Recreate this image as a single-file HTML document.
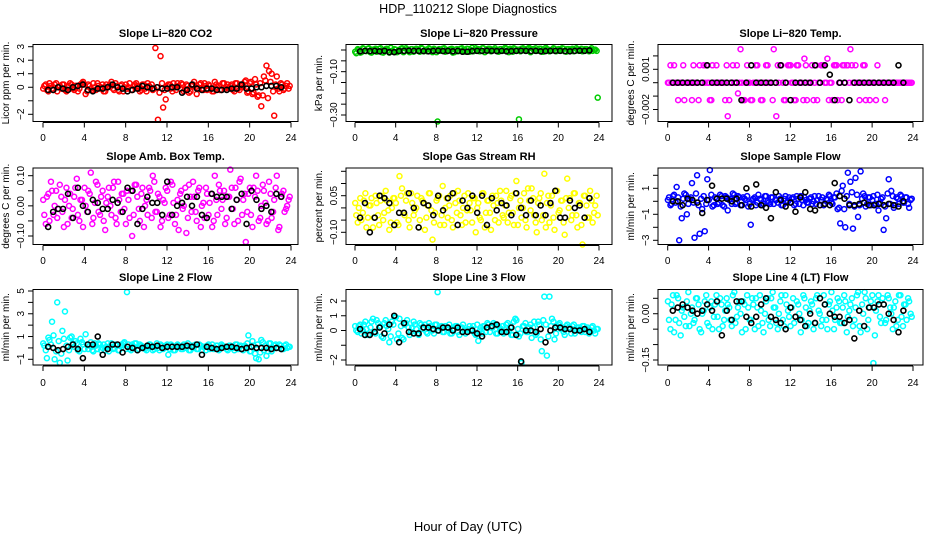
<!DOCTYPE html>
<html><head><meta charset="utf-8"><style>
html,body{margin:0;padding:0;background:#fff;}
svg{display:block;font-family:"Liberation Sans",sans-serif;}
</style></head><body>
<svg id="c" width="936" height="540" viewBox="0 0 936 540">
<text x="468" y="13" text-anchor="middle" font-size="12.5">HDP_110212  Slope Diagnostics</text>
<text x="468" y="531" text-anchor="middle" font-size="13">Hour of Day (UTC)</text>
</svg>
<script>
const xTicks=[0,4,8,12,16,20,24];
const co2=[0.1,-0.2,0.3,-0.1,0.2,-0.3,0.1,0.2,-0.2,0.0,0.3,-0.1,0.1,-0.3,0.2,0.4,-0.5,0.2,-0.1,0.3,-0.2,0.1,0.0,-0.3,0.2,0.1,0.4,-0.2,0.1,-0.3,0.2,0.0,-0.1,0.3,-0.2,0.2,0.1,-0.3,0.2,-0.1,0.3,0.0,-0.2,2.9,-2.4,2.3,-1.5,-0.9,0.2,-0.1,0.3,-0.2,0.1,0.3,-0.3,0.2,-0.4,0.1,0.4,-0.5,0.2,-0.1,0.3,-0.2,0.1,-0.3,0.4,0.0,-0.2,0.3,-0.1,0.2,0.1,-0.2,0.3,-0.1,0.2,0.0,0.5,-0.3,0.4,-0.4,0.2,-0.6,-1.4,0.8,1.6,1.2,1.0,-2.1,0.8,-0.3,0.2,-0.1,0.3,0.1];
const co2B=[-0.1,0.2,-0.3,0.1,-0.2,0.3,0.0,-0.1,0.2,-0.3,0.1,0.2,-0.2,0.1,-0.1,0.3,0.2,-0.3,0.1,-0.2,0.0,0.3,-0.1,0.2,-0.3,0.0,0.2,-0.1,0.3,-0.2,0.1,-0.3,0.2,0.0,-0.2,0.1,0.3,-0.1,-0.2,0.2,-0.3,0.1,0.2,-0.1,0.0,-0.4,0.3,-0.2,0.1,0.2,-0.3,0.0,0.3,-0.1,0.2,-0.2,0.1,-0.3,0.2,0.0,-0.1,0.3,-0.2,0.1,0.2,-0.1,-0.3,0.2,0.1,-0.2,0.3,0.0,-0.1,0.2,-0.3,0.3,-0.2,0.1,0.4,-0.4,0.3,-0.5,0.6,-0.7,0.3,-0.6,0.5,-0.8,0.4,-0.3,0.2,-0.1,0.3,-0.2,0.1,-0.1];
const co2Mean=[-0.2,-0.2,0.0,-0.1,-0.2,0.0,0.1,0.2,-0.2,-0.3,-0.1,-0.1,0.0,0.2,0.0,-0.1,-0.3,-0.2,-0.1,0.1,0.0,-0.1,0.0,-0.1,-0.1,0.0,0.0,-0.4,-0.2,0.2,-0.1,-0.2,-0.1,-0.1,-0.2,-0.2,-0.2,-0.1,-0.1,0.2,-0.1,-0.1,0.0,0.0,0.1,0.1,0.1,0.0];
const pres=[-0.015,0.0,-0.01,0.005,-0.005,0.008,-0.012,0.002,-0.008,0.005,-0.01,0.0,0.006,-0.012,-0.004,0.004,-0.01,0.0,0.008,-0.006,0.002,-0.01,0.004,-0.004,0.002,-0.008,0.006,0.0,-0.006,0.004,-0.01,0.002,-0.33,-0.004,0.006,-0.008,0.0,0.004,-0.012,0.002,-0.006,0.006,-0.002,-0.008,0.004,0.0,-0.006,0.008,0.004,-0.004,0.008,-0.002,0.006,-0.006,0.002,0.0,-0.008,0.004,-0.002,0.006,-0.01,0.002,0.008,-0.004,-0.32,0.006,-0.002,0.004,0.01,-0.006,0.002,-0.004,0.006,-0.008,0.0,0.004,-0.006,0.002,0.006,-0.004,0.0,0.008,-0.006,0.004,-0.002,0.006,-0.004,0.002,0.0,-0.006,0.004,-0.002,0.002,-0.004,0.002,-0.22];
const presB=[-0.008,0.004,-0.012,0.008,-0.004,0.006,-0.01,0.002,0.006,-0.006,0.008,-0.012,0.004,-0.002,0.01,-0.008,0.002,-0.004,0.006,-0.01,0.008,-0.002,0.004,-0.008,0.006,-0.004,0.01,-0.006,0.002,0.008,-0.004,0.006,-0.01,0.004,-0.002,0.008,-0.006,0.002,0.006,-0.01,0.004,-0.004,0.008,-0.002,0.006,-0.008,0.01,-0.004,0.002,-0.006,0.008,-0.01,0.004,0.006,-0.002,0.008,-0.006,0.004,-0.004,0.01,-0.002,0.006,-0.008,0.004,0.002,-0.006,0.008,-0.004,0.006,-0.01,0.004,0.008,-0.002,0.006,-0.008,0.01,0.002,-0.004,0.008,-0.006,0.004,-0.002,0.006,-0.008,0.004,0.002,-0.006,0.008,-0.004,0.006,-0.002,0.004,-0.006,0.008,0.002,-0.004];
const presMean=[-0.006,-0.004,-0.005,-0.004,-0.006,-0.004,-0.01,-0.01,-0.005,-0.004,-0.003,-0.004,-0.004,-0.005,-0.006,-0.004,-0.003,-0.005,-0.004,-0.006,-0.004,-0.008,-0.008,-0.005,-0.004,-0.004,-0.003,-0.004,-0.005,-0.004,-0.006,-0.005,-0.004,-0.003,-0.004,-0.005,-0.004,-0.006,-0.005,-0.004,-0.004,-0.004,-0.005,-0.006,-0.004,-0.003,-0.004,-0.002];
const temp=[0,0,0.0013,0,0,0,-0.0013,0,0,-0.0013,0,0,0.0013,0,0,0,-0.0013,0.0013,0,0,0,0,-0.0013,-0.0025,0,0.0013,0,-0.0008,0.0025,-0.0013,0,0,-0.0013,0,0.0013,0,-0.0013,0,0.0013,0,0,0.0025,-0.0025,0,0.0013,-0.0013,0,0.0013,0,-0.0013,0.0013,0,0,0.0018,-0.0013,0,0.0013,0,-0.0013,0,0.0013,0,0.0018,0,-0.0013,0.0013,-0.0013,0,0.0013,0,0.0013,0.0025,0,0.0013,0,0,0.0013,-0.0013,0,0,0,-0.0013,0,0,0,0,0,0,0,0,0,0,0,0,0,0];
const tempB=[0,0.0013,0,0,-0.0013,0,0.0013,0,0,0,0.0013,0,-0.0013,0,0.0013,0.0013,0,-0.0013,0,0.0013,0,0,0,0.0013,-0.0013,0,0,0.0013,0,0,-0.0013,0.0013,0,-0.0013,0,0.0013,0,-0.0013,0,0.0013,0,-0.0013,0,0.0013,0.0013,0,-0.0013,0.0013,0.0013,0,-0.0013,0.0013,0,-0.0013,0.0013,0,0,-0.0013,0.0013,0,0.0013,0.0013,0,-0.0013,0,0.0013,0.0013,0,-0.0013,0.0013,0.0013,0,0.0013,0,0,-0.0013,0,0.0013,0,-0.0013,0,0,0.0013,0,0,-0.0013,0,0,0,0,0,0,0,0,0,0];
const tempMean=[0,0,0,0,0,0,0,0.0013,0,0,0,0,0,0,-0.0013,0,0.0013,0,0,0,0,0,0.0013,0,-0.0013,0,0,0,0,0.0013,0,0.0013,0.0006,-0.0013,0,0,-0.0013,0,0,0,0,0,0,0,0,0,0.0013,0];
const amb=[-0.03,0.03,-0.05,0.05,0.0,-0.04,0.07,-0.02,0.02,-0.06,0.04,-0.01,0.06,-0.03,0.02,-0.07,0.0,0.05,0.11,-0.04,0.08,-0.02,0.03,-0.05,0.01,0.06,-0.03,0.08,-0.06,0.02,0.04,-0.01,0.05,-0.04,-0.1,0.07,0.03,-0.05,0.06,0.0,-0.03,0.05,0.1,-0.02,0.04,-0.07,0.02,0.06,-0.04,0.08,0.01,-0.03,-0.08,0.05,0.0,-0.09,0.07,-0.02,0.03,-0.05,0.06,0.0,-0.04,0.04,0.01,-0.07,0.10,-0.03,0.05,0.02,-0.06,0.03,0.12,-0.01,0.06,-0.05,0.09,0.02,-0.12,0.04,-0.03,0.06,0.1,-0.05,0.0,0.05,-0.06,0.08,-0.04,0.02,0.10,-0.07,0.04,-0.02,0.0,0.03];
const ambB=[0.02,-0.06,0.04,0.08,-0.03,0.05,-0.01,0.03,-0.07,0.06,0.0,-0.04,0.03,0.09,-0.05,0.02,0.06,-0.02,0.04,-0.06,0.01,0.07,-0.03,0.05,-0.08,0.03,0.0,0.06,-0.04,0.08,-0.02,0.04,-0.06,0.02,0.05,-0.03,0.07,-0.01,0.04,-0.07,0.02,0.06,-0.04,0.08,-0.02,0.03,-0.05,0.01,0.05,-0.03,0.07,-0.06,0.02,0.04,-0.01,0.06,-0.04,0.03,0.08,-0.02,0.05,-0.07,0.01,0.06,-0.03,0.04,-0.05,0.02,0.07,-0.01,0.05,-0.04,0.03,0.06,-0.06,0.02,0.08,-0.03,0.04,-0.02,0.06,-0.07,0.03,0.05,-0.04,0.07,0.01,-0.05,0.04,-0.02,0.06,-0.08,0.03,0.05,-0.01,0.02];
const ambMean=[-0.07,-0.02,-0.01,-0.01,0.04,-0.04,0.06,0.0,-0.02,0.02,0.01,-0.01,-0.01,0.02,0.01,-0.02,0.06,0.05,-0.06,-0.01,0.03,0.01,0.01,-0.03,0.08,-0.03,0.0,0.01,0.03,0.0,0.03,-0.03,-0.04,0.04,0.03,0.03,0.03,-0.01,0.02,0.04,-0.06,0.05,0.02,-0.01,0.0,-0.02,0.04,0.03];
const rh=[-0.03,0.0,-0.05,0.03,-0.08,0.01,0.04,-0.04,0.02,-0.07,0.05,-0.02,0.03,-0.09,0.0,0.04,-0.06,0.13,0.08,-0.03,0.06,-0.08,0.02,-0.01,0.05,-0.05,0.03,-0.09,0.01,0.06,-0.13,-0.02,0.04,-0.07,0.09,0.0,-0.04,0.05,-0.08,0.02,0.07,-0.03,0.0,-0.06,0.06,-0.01,0.04,-0.1,0.02,-0.05,0.06,-0.02,0.03,-0.09,0.01,0.05,-0.06,0.03,-0.04,0.07,-0.02,0.05,-0.07,0.11,0.0,-0.04,0.06,-0.08,0.03,0.08,-0.03,-0.1,0.04,-0.05,0.14,0.02,-0.06,0.05,-0.09,0.07,-0.01,0.03,-0.11,0.12,0.04,-0.03,0.06,-0.08,0.02,-0.15,0.05,-0.04,0.07,-0.06,0.01,-0.03];
const rhB=[0.02,-0.06,0.04,-0.02,0.06,-0.04,0.01,-0.08,0.05,-0.03,0.03,-0.05,0.07,-0.01,-0.06,0.04,0.02,-0.07,0.05,-0.02,0.03,-0.05,0.06,-0.03,0.0,-0.08,0.04,0.02,-0.04,0.06,-0.01,-0.06,0.03,0.05,-0.03,-0.07,0.04,0.01,-0.05,0.06,-0.02,0.03,-0.07,0.05,-0.01,0.02,-0.06,0.04,0.0,-0.04,0.06,-0.08,0.03,-0.02,0.05,-0.05,0.02,0.07,-0.03,0.01,-0.06,0.04,-0.02,0.06,-0.07,0.03,0.0,-0.05,0.08,-0.01,0.04,-0.06,0.02,0.06,-0.03,-0.08,0.05,0.01,-0.04,0.07,-0.02,0.03,-0.06,0.04,0.0,-0.05,0.06,-0.03,0.02,-0.07,0.05,0.01,-0.04,0.03,-0.02,0.05];
const rhMean=[-0.04,0.02,-0.1,-0.04,0.05,0.04,0.02,-0.07,-0.02,-0.02,0.06,0.0,-0.08,0.02,0.01,-0.03,0.05,-0.01,0.04,0.06,-0.07,0.03,0.0,0.05,-0.02,0.05,-0.07,0.04,-0.01,0.02,0.01,-0.03,0.06,0.0,-0.03,0.03,-0.03,0.01,-0.03,0.02,0.07,-0.04,-0.04,0.03,0.0,0.01,-0.04,0.04];
const sflow=[0.3,-0.2,0.5,1.1,-3.0,-1.3,0.6,-1.0,0.2,1.4,-2.8,2.0,-2.5,-0.6,-2.3,1.7,2.4,-0.4,0.3,-0.2,0.5,-0.3,0.4,-0.7,0.2,0.6,-0.2,0.4,-0.3,0.3,0.1,-0.4,-1.8,0.2,-0.3,0.5,0.1,-0.2,0.4,-0.1,0.3,-0.2,0.1,0.4,-0.3,0.2,-0.1,0.3,0.2,-0.3,0.4,-0.2,0.1,0.3,-0.1,0.2,-0.2,0.4,0.1,-0.3,0.3,-0.2,0.1,0.4,-0.2,0.3,-0.6,-1.7,1.2,-2.0,2.2,1.5,-2.1,1.8,-1.2,2.3,0.6,-0.4,0.3,-0.3,0.4,-0.2,-0.7,0.2,-2.2,-1.3,1.7,0.8,-0.5,0.3,-0.2,0.4,-0.1,0.3,-0.5,0.2];
const sflowB=[0.1,-0.3,0.4,-0.1,0.3,-0.4,0.2,0.5,-0.2,0.3,-0.1,0.6,-0.3,0.2,0.4,-0.2,0.1,0.5,-0.3,0.2,-0.1,0.4,-0.4,0.3,0.1,-0.2,0.5,-0.1,0.3,-0.3,0.2,0.4,-0.2,0.1,0.3,-0.1,0.2,-0.3,0.4,0.0,-0.2,0.3,0.1,-0.1,0.2,-0.3,0.4,0.0,-0.1,0.3,-0.2,0.2,0.4,-0.3,0.1,-0.1,0.3,0.0,-0.2,0.4,0.1,-0.3,0.2,0.5,-0.1,0.3,0.6,-0.5,0.8,-0.6,0.4,-0.2,0.7,-0.4,0.5,-0.3,0.2,0.4,-0.2,0.3,0.1,-0.3,0.5,-0.1,0.3,-0.4,0.6,-0.2,0.4,-0.3,0.2,0.5,-0.1,0.3,-0.2,0.1];
const sflowMean=[0.0,0.0,-0.3,0.2,0.1,-0.1,-0.9,0.1,1.2,0.2,0.2,0.2,0.0,0.2,-0.3,1.0,-0.4,1.3,-0.3,-0.5,-1.3,0.7,0.1,-0.4,-0.1,-0.8,0.3,0.7,-0.6,-0.7,-0.3,-0.2,-0.3,1.4,0.4,0.2,-0.3,-0.3,-0.2,-0.1,-0.3,-0.3,-0.2,-0.3,-0.2,-0.3,-0.4,0.0];
const l2=[0.2,-0.9,0.7,2.3,-1.0,4.0,-1.3,1.5,3.2,-1.1,0.9,0.4,0.6,-0.2,0.8,0.3,1.2,-0.1,0.5,-0.3,0.2,0.4,-0.2,0.3,0.1,-0.3,0.4,0.0,0.2,-0.2,0.3,0.5,4.9,-0.1,0.3,0.4,-0.2,0.3,0.1,-0.1,0.2,0.3,-0.2,0.1,0.0,0.3,-0.1,0.2,-0.6,0.3,-0.2,0.1,0.2,-0.1,0.3,0.0,-0.2,0.2,0.1,-0.1,0.3,-0.2,0.1,0.2,-0.1,0.3,0.0,0.2,-0.1,0.2,0.1,-0.2,0.2,0.0,0.3,-0.1,0.2,-0.2,0.1,1.1,-0.3,0.2,-0.9,-1.0,0.7,-0.2,-0.7,0.4,-0.3,0.2,0.0,0.3,-0.1,0.2,0.0,0.1];
const l2B=[0.4,-0.2,0.9,0.3,1.1,-0.3,0.6,-0.5,0.8,0.2,-0.2,1.0,0.1,0.4,-0.3,0.5,-0.1,0.3,0.2,-0.2,0.4,-0.1,0.3,0.0,-0.2,0.4,0.1,-0.1,0.3,-0.2,0.2,0.4,-0.1,0.3,-0.2,0.1,0.4,-0.1,0.2,0.0,-0.2,0.3,0.1,-0.1,0.4,-0.2,0.2,0.0,0.3,-0.1,0.2,-0.2,0.3,0.1,-0.1,0.2,0.4,-0.2,0.0,0.3,-0.1,0.2,0.1,-0.2,0.3,0.0,-0.1,0.2,-0.2,0.3,0.1,-0.1,0.2,0.0,-0.2,0.3,0.1,-0.1,0.2,0.4,-0.3,0.6,-0.5,0.3,-0.4,0.5,0.2,-0.3,0.4,-0.1,0.3,0.0,0.2,-0.1,0.3,0.1];
const l2Mean=[0.1,0.0,-0.2,-0.1,0.1,0.3,-0.1,-0.9,0.3,0.3,1.0,-0.6,-0.1,0.3,0.3,-0.4,0.1,0.0,-0.2,0.0,0.2,0.1,0.2,0.0,0.1,0.1,0.1,0.1,0.2,0.1,0.3,-0.6,0.1,0.0,-0.1,0.0,0.1,0.1,0.0,-0.1,0.0,0.1,0.0,0.0,0.0,-0.1,0.0,-0.1];
const l3=[0.0,0.3,-0.2,0.4,0.1,-0.3,0.6,-0.1,0.7,0.2,-0.4,0.5,0.3,-0.8,0.6,0.9,-0.6,0.8,-0.5,0.4,0.7,-0.3,0.2,0.4,-0.2,0.5,0.1,0.4,-0.2,0.3,0.0,0.4,2.6,0.2,-0.1,0.3,0.2,-0.2,0.1,0.3,-0.1,0.2,0.4,-0.2,0.1,0.0,0.3,-0.3,-0.7,0.2,0.3,-0.1,0.4,0.2,0.5,-0.2,0.3,0.1,-0.2,0.4,0.0,-0.3,0.6,0.7,-0.4,-2.2,0.3,-0.1,0.2,-0.5,0.6,-0.2,0.4,-1.4,2.3,-1.7,2.3,0.8,-0.6,0.3,0.5,0.2,-0.3,0.4,0.1,0.3,-0.2,0.2,0.1,0.3,-0.1,0.2,0.0,0.3,-0.2,0.1];
const l3B=[0.3,-0.1,0.4,0.0,0.6,-0.3,0.2,0.8,-0.2,0.5,0.3,-0.5,0.7,0.1,-0.4,0.4,0.9,-0.2,0.3,-0.6,0.5,0.2,-0.1,0.6,0.1,-0.3,0.4,0.2,-0.1,0.5,0.3,-0.2,0.4,0.0,0.3,-0.1,0.2,0.4,-0.2,0.1,0.3,-0.3,0.2,0.0,-0.1,0.3,0.1,-0.2,0.4,0.0,-0.2,0.3,0.5,-0.1,0.2,0.4,-0.2,0.1,0.3,-0.1,0.5,0.2,-0.3,0.8,0.1,-0.2,0.3,0.5,-0.1,0.4,0.2,-0.3,0.6,-0.6,0.7,0.4,-0.4,0.3,0.6,-0.2,0.4,0.1,-0.1,0.3,0.2,-0.2,0.4,0.0,0.2,-0.1,0.3,0.1,-0.2,0.2,0.0,0.1];
const l3Mean=[0.1,-0.3,-0.3,-0.1,0.2,-0.2,0.4,1.0,-0.8,0.5,-0.1,-0.2,-0.2,0.2,0.2,0.1,0.0,0.2,0.2,0.0,0.2,-0.1,-0.1,0.0,-0.2,-0.4,0.2,0.3,0.4,-0.1,-0.1,0.2,-0.3,-2.1,0.0,0.0,-0.1,0.1,-0.8,0.0,0.2,0.2,0.1,0.1,0.0,0.0,0.1,-0.1];
const l4=[-0.02,0.03,-0.06,0.06,-0.03,0.01,-0.01,0.04,-0.04,0.02,-0.02,0.05,-0.05,0.0,0.04,-0.03,0.02,-0.05,0.03,-0.01,0.05,-0.04,0.01,0.03,-0.02,0.06,-0.03,0.02,0.0,0.04,-0.05,0.02,-0.02,0.03,0.05,-0.04,0.01,-0.06,0.04,-0.02,0.05,0.02,-0.03,0.0,0.06,-0.04,0.03,-0.01,0.02,-0.03,0.04,0.0,-0.02,0.05,-0.04,0.01,0.03,-0.03,0.06,0.0,-0.02,0.03,-0.05,0.04,0.01,-0.02,0.05,-0.03,0.02,0.04,-0.01,0.03,-0.04,0.02,0.07,-0.06,0.0,0.05,-0.02,0.04,-0.16,0.01,0.06,-0.03,0.03,-0.02,0.05,0.0,0.02,-0.04,0.06,-0.01,0.03,-0.02,0.04,-0.01];
const l4B=[0.04,-0.05,0.06,-0.02,0.05,-0.07,0.02,-0.04,0.07,0.0,-0.03,0.05,0.03,-0.06,0.01,0.06,-0.04,0.04,-0.01,0.06,-0.05,0.03,-0.02,0.05,0.02,-0.04,0.07,-0.01,0.04,-0.06,0.03,0.06,-0.02,0.05,-0.05,0.02,0.06,-0.03,0.0,0.05,-0.04,0.07,0.02,-0.05,0.04,-0.02,0.06,0.01,-0.04,0.05,-0.01,0.03,-0.06,0.06,0.02,-0.03,0.04,-0.05,0.05,0.01,-0.04,0.06,-0.02,0.03,0.07,-0.05,0.02,0.04,-0.03,0.06,-0.06,0.01,0.05,-0.02,0.06,-0.04,0.03,0.07,-0.05,0.02,0.06,-0.07,0.04,-0.01,0.05,-0.03,0.06,0.02,-0.05,0.04,-0.02,0.06,-0.04,0.03,0.05,0.0];
const l4Mean=[0.01,0.02,0.03,0.02,0.01,0.0,0.01,0.03,0.01,0.04,-0.07,0.01,-0.02,0.04,0.04,-0.01,-0.03,-0.01,0.03,0.05,-0.01,-0.02,-0.03,-0.05,0.02,-0.01,-0.02,-0.04,0.0,-0.03,0.05,0.03,0.0,-0.01,-0.01,-0.03,-0.02,-0.08,0.01,-0.04,0.02,0.02,0.03,0.03,0.0,-0.02,-0.06,0.01];

const NS="http://www.w3.org/2000/svg";
const svg=document.getElementById('c');
function mk(tag,attrs,parent){const e=document.createElementNS(NS,tag);for(const k in attrs)e.setAttribute(k,attrs[k]);(parent||svg).appendChild(e);return e;}

const colsX=[{b0:33,b1:298,x0:43,x24:291},{b0:346,b1:612,x0:355,x24:599},{b0:658,b1:923,x0:667.7,x24:913}];
const rowsY=[{t:44.5,b:121.5,title:37,lab:141},{t:168,b:244.5,title:160,lab:264},{t:289.5,b:365,title:281,lab:386}];
const panels=[
 {name:'co2',title:'Slope Li−820 CO2',ylab:'Licor ppm per min.',col:'#ff0000',data:co2,data2:co2B,mean:co2Mean,r:0,c:0,va:3,pa:46.7,vb:-2,pb:114.3,ticks:[-2,-1,0,1,2,3],labels:{'3':'3','2':'2','1':'1','0':'0','-2':'−2'}},
 {name:'pressure',title:'Slope Li−820 Pressure',ylab:'kPa per min.',col:'#00cc00',data:pres,data2:presB,mean:presMean,r:0,c:1,va:0,pa:50,vb:-0.3,pb:115,ticks:[0,-0.05,-0.1,-0.15,-0.2,-0.25,-0.3],labels:{'-0.1':'−0.10','-0.3':'−0.30'}},
 {name:'temp',title:'Slope Li−820 Temp.',ylab:'degrees C per min.',col:'#ff00ff',data:temp,data2:tempB,mean:tempMean,r:0,c:2,va:0.001,pa:69.3,vb:0,pb:82.7,ticks:[0.002,0.001,0,-0.001,-0.002],labels:{'0.001':'0.001','-0.002':'−0.002'}},
 {name:'amb-box-temp',title:'Slope Amb. Box Temp.',ylab:'degrees C per min.',col:'#ff00ff',data:amb,data2:ambB,mean:ambMean,r:1,c:0,va:0.1,pa:175.7,vb:-0.1,pb:236,ticks:[0.1,0.05,0,-0.05,-0.1],labels:{'0.1':'0.10','0':'0.00','-0.1':'−0.10'}},
 {name:'gas-stream-rh',title:'Slope Gas Stream RH',ylab:'percent per min.',col:'#ffff00',data:rh,data2:rhB,mean:rhMean,r:1,c:1,va:0.05,pa:195.7,vb:-0.1,pb:232.3,ticks:[0.15,0.1,0.05,0,-0.05,-0.1],labels:{'0.05':'0.05','-0.1':'−0.10'}},
 {name:'sample-flow',title:'Slope Sample Flow',ylab:'ml/min per min.',col:'#0000ff',data:sflow,data2:sflowB,mean:sflowMean,r:1,c:2,va:1,pa:188.3,vb:-1,pb:214.3,ticks:[2,1,0,-1,-2,-3],labels:{'1':'1','-1':'−1','-3':'−3'}},
 {name:'line2-flow',title:'Slope Line 2 Flow',ylab:'ml/min per min.',col:'#00ffff',data:l2,data2:l2B,mean:l2Mean,r:2,c:0,va:5,pa:291,vb:-1,pb:359.3,ticks:[5,4,3,2,1,0,-1],labels:{'5':'5','3':'3','1':'1','-1':'−1'}},
 {name:'line3-flow',title:'Slope Line 3 Flow',ylab:'ml/min per min.',col:'#00ffff',data:l3,data2:l3B,mean:l3Mean,r:2,c:1,va:2,pa:301,vb:-2,pb:360,ticks:[2,1,0,-1,-2],labels:{'2':'2','1':'1','0':'0','-2':'−2'}},
 {name:'line4-flow',title:'Slope Line 4 (LT) Flow',ylab:'ml/min per min.',col:'#00ffff',data:l4,data2:l4B,mean:l4Mean,r:2,c:2,va:0.05,pa:298.3,vb:-0.15,pb:360,ticks:[0.05,0,-0.05,-0.1,-0.15],labels:{'0':'0.00','-0.15':'−0.15'}}
];

panels.forEach(p=>{
 const cx=colsX[p.c],ry=rowsY[p.r];
 const g=mk('g',{});
 
 
 const xs=h=>cx.x0+(cx.x24-cx.x0)*h/24;
 const ys=v=>p.pa+(p.pb-p.pa)*(v-p.va)/(p.vb-p.va);
 const t=mk('text',{x:(cx.b0+cx.b1)/2,y:ry.title,'text-anchor':'middle','font-size':'11','font-weight':'bold'},g);
 t.textContent=p.title;
 
 
 const pts=mk('g',{fill:'none','stroke-width':'1.5'},g);
 
 
 p.data.forEach((v,i)=>{
  const c=mk('circle',{cx:xs(0.125+i*0.25),cy:ys(v),r:2.5,stroke:p.col},pts);
  
  
 });
 p.data2.forEach((v,i)=>{
  const c=mk('circle',{cx:xs(i*0.25+0.02),cy:ys(v),r:2.5,stroke:p.col},pts);
  
  
 });
 const mpts=mk('g',{fill:'none','stroke-width':'1.6'},g);
 
 
 p.mean.forEach((v,i)=>{
  const c=mk('circle',{cx:xs(0.5+i*0.48),cy:ys(v),r:2.5,stroke:'#000'},mpts);
  
  
 });
 const box=mk('rect',{x:cx.b0,y:ry.t,width:cx.b1-cx.b0,height:ry.b-ry.t,fill:'none',stroke:'#000','stroke-width':'1'},g);
 
 
 const xa=mk('g',{stroke:'#000','stroke-width':'1'},g);
 
 
 mk('line',{x1:xs(0),x2:xs(24),y1:ry.b+1,y2:ry.b+1},xa);
 xTicks.forEach(h=>{
  mk('line',{x1:xs(h),x2:xs(h),y1:ry.b+1,y2:ry.b+6},xa);
  const tl=mk('text',{x:xs(h),y:ry.lab,'text-anchor':'middle','font-size':'10',stroke:'none'},xa);
  tl.textContent=h;
  
  
 });
 const ya=mk('g',{stroke:'#000','stroke-width':'1'},g);
 
 
 const yt=p.ticks.map(ys);
 mk('line',{x1:cx.b0,x2:cx.b0,y1:Math.min(...yt),y2:Math.max(...yt)},ya);
 p.ticks.forEach(v=>{
  const y=ys(v);
  mk('line',{x1:cx.b0-5,x2:cx.b0,y1:y,y2:y},ya);
  const key=String(v);
  if(p.labels[key]!==undefined){
   const tl=mk('text',{x:cx.b0-9,y:y,'text-anchor':'middle','font-size':'10',stroke:'none',transform:`rotate(-90 ${cx.b0-9} ${y})`},ya);
   tl.textContent=p.labels[key];
   
   
  }
 });
 const yl=cx.b0-24, ym=(ry.t+ry.b)/2;
 const yt2=mk('text',{x:yl,y:ym,'text-anchor':'middle','font-size':'10',transform:`rotate(-90 ${yl} ${ym})`},g);
 yt2.textContent=p.ylab;
 
 
});
</script>
</body></html>
